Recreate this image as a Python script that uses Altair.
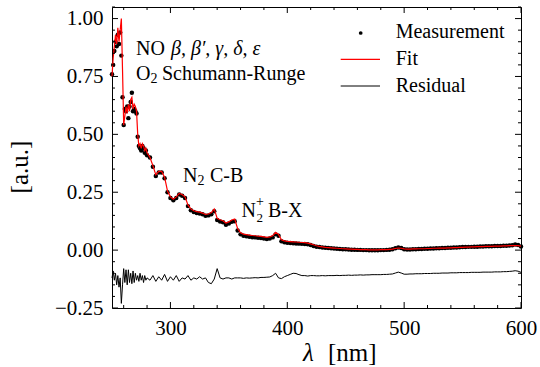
import altair as alt
import pandas as pd

# ---------------- data ----------------
WL = list(range(250, 281)) + [282.5 + 2.5 * i for i in range(128)]

MEAS = [
    0.76, 0.80, 0.86, 0.90, 0.88, 0.93, 0.89, 0.94, 0.84, 0.66,
    0.54, 0.61, 0.60, 0.62, 0.57, 0.62, 0.64, 0.68, 0.60, 0.61,
    0.60, 0.59, 0.49, 0.45, 0.44, 0.43, 0.45, 0.44, 0.42, 0.43,
    0.41,
    0.40, 0.36, 0.32, 0.335, 0.335, 0.31, 0.25, 0.225, 0.215, 0.225,
    0.24, 0.235, 0.225, 0.19, 0.172, 0.165, 0.16, 0.158, 0.155, 0.148,
    0.15, 0.155, 0.168, 0.13, 0.124, 0.12, 0.11, 0.115, 0.122, 0.125,
    0.085, 0.068, 0.062, 0.06, 0.058, 0.056, 0.055, 0.053, 0.052, 0.05,
    0.048, 0.05, 0.055, 0.068, 0.062, 0.038, 0.034, 0.032,
    0.031, 0.030, 0.029, 0.028, 0.027, 0.026, 0.025, 0.022, 0.018, 0.015,
    0.013, 0.011, 0.010, 0.009, 0.008, 0.007, 0.006, 0.005, 0.004, 0.004,
    0.003, 0.002, 0.002, 0.001, 0.001, 0.000, 0.000, -0.001, -0.001, -0.001,
    -0.001, 0.000, 0.000, 0.001, 0.002, 0.004, 0.008, 0.011, 0.009, 0.004,
    0.003, 0.003, 0.004, 0.004, 0.005, 0.005, 0.006, 0.006, 0.007, 0.007,
    0.008, 0.008, 0.009, 0.009, 0.010, 0.010, 0.011, 0.011, 0.012, 0.013,
    0.013, 0.014, 0.014, 0.015, 0.015, 0.016, 0.016, 0.017, 0.017, 0.017,
    0.018, 0.018, 0.018, 0.019, 0.019, 0.020, 0.021, 0.024, 0.022, 0.016,
]

FIT = [
    0.75, 0.83, 0.88, 0.93, 0.89, 0.96, 0.90, 0.95, 1.00, 0.78,
    0.54, 0.58, 0.62, 0.59, 0.63, 0.60, 0.65, 0.66, 0.61, 0.63,
    0.62, 0.60, 0.50, 0.45, 0.46, 0.44, 0.46, 0.45, 0.43, 0.44,
    0.42,
    0.40, 0.365, 0.325, 0.34, 0.34, 0.315, 0.255, 0.23, 0.22, 0.23,
    0.245, 0.24, 0.23, 0.195, 0.178, 0.17, 0.166, 0.164, 0.16, 0.154,
    0.156, 0.162, 0.178, 0.137, 0.131, 0.127, 0.117, 0.122, 0.13, 0.134,
    0.093, 0.075, 0.069, 0.067, 0.065, 0.063, 0.062, 0.06, 0.059, 0.057,
    0.055, 0.057, 0.062, 0.077, 0.068, 0.045, 0.04, 0.038,
    0.037, 0.036, 0.035, 0.034, 0.033, 0.032, 0.030, 0.027, 0.023, 0.019,
    0.016, 0.014, 0.012, 0.011, 0.010, 0.009, 0.008, 0.007, 0.006, 0.005,
    0.004, 0.004, 0.003, 0.003, 0.002, 0.002, 0.002, 0.001, 0.001, 0.001,
    0.001, 0.002, 0.002, 0.002, 0.003, 0.004, 0.007, 0.009, 0.008, 0.005,
    0.004, 0.004, 0.005, 0.005, 0.006, 0.006, 0.006, 0.007, 0.007, 0.008,
    0.008, 0.009, 0.009, 0.009, 0.010, 0.010, 0.011, 0.011, 0.012, 0.012,
    0.013, 0.013, 0.014, 0.014, 0.015, 0.015, 0.015, 0.016, 0.016, 0.016,
    0.017, 0.017, 0.017, 0.018, 0.018, 0.019, 0.019, 0.020, 0.019, 0.017,
]

RES = [
    -0.12, -0.09, -0.13, -0.10, -0.15, -0.11, -0.16, -0.12, -0.23, -0.15,
    -0.08, -0.14, -0.085, -0.15, -0.085, -0.14, -0.10, -0.145, -0.09, -0.14,
    -0.10, -0.13, -0.11, -0.135, -0.10, -0.13, -0.11, -0.14, -0.11, -0.13,
    -0.12,
    -0.13, -0.11, -0.135, -0.115, -0.13, -0.105, -0.135, -0.115, -0.13, -0.11,
    -0.135, -0.12, -0.125, -0.11, -0.13, -0.12, -0.125, -0.115, -0.125, -0.12,
    -0.14, -0.145, -0.125, -0.08, -0.12, -0.125, -0.12, -0.12, -0.125, -0.12,
    -0.12, -0.12, -0.122, -0.12, -0.121, -0.12, -0.119, -0.12, -0.118, -0.118,
    -0.117, -0.116, -0.11, -0.10, -0.12, -0.123, -0.115, -0.11,
    -0.105, -0.100, -0.101, -0.106, -0.110, -0.110, -0.112, -0.110, -0.110, -0.111,
    -0.111, -0.110, -0.111, -0.110, -0.110, -0.110, -0.109, -0.110, -0.109, -0.109,
    -0.108, -0.109, -0.108, -0.108, -0.107, -0.108, -0.107, -0.107, -0.106, -0.106,
    -0.106, -0.106, -0.105, -0.105, -0.104, -0.103, -0.099, -0.095, -0.099, -0.104,
    -0.104, -0.103, -0.103, -0.102, -0.102, -0.102, -0.101, -0.101, -0.101, -0.100,
    -0.100, -0.100, -0.099, -0.099, -0.099, -0.098, -0.098, -0.098, -0.097, -0.097,
    -0.097, -0.097, -0.096, -0.096, -0.096, -0.096, -0.095, -0.095, -0.095, -0.095,
    -0.094, -0.094, -0.094, -0.093, -0.093, -0.092, -0.091, -0.089, -0.091, -0.096,
]

X_MAJOR = [300, 400, 500, 600]
X_MINOR = [260, 280, 320, 340, 360, 380, 420, 440, 460, 480, 520, 540, 560, 580]
Y_MAJOR = [-0.25, 0.0, 0.25, 0.5, 0.75, 1.0]
Y_MINOR = [-0.2, -0.15, -0.1, -0.05, 0.05, 0.1, 0.15, 0.2, 0.3, 0.35, 0.4, 0.45,
           0.55, 0.6, 0.65, 0.7, 0.8, 0.85, 0.9, 0.95, 1.05]

# ---------------- chart ----------------
FONT = "Liberation Serif"
W, H = 409, 301
XS = alt.Scale(domain=[250, 600], nice=False, zero=False)
YS = alt.Scale(domain=[-0.25, 1.05], nice=False, zero=False)

df = pd.DataFrame({"wl": WL, "meas": MEAS, "fit": FIT, "res": RES})

xaxis = alt.Axis(values=X_MAJOR, ticks=False, domain=False, grid=False, format="d",
                 labelFont=FONT, labelFontSize=21, labelColor="black", labelPadding=9,
                 labelFlush=False, labelOverlap=False, title=None)
yaxis = alt.Axis(values=Y_MAJOR, ticks=False, domain=False, grid=False, format=".2f",
                 labelFont=FONT, labelFontSize=21, labelColor="black", labelPadding=9,
                 labelFlush=False, labelOverlap=False, title=None)

XE = alt.X("wl:Q", scale=XS, axis=xaxis)

base = alt.Chart(df)
points = base.mark_circle(size=20, color="black", opacity=1).encode(
    x=XE, y=alt.Y("meas:Q", scale=YS, axis=yaxis))
fit = base.mark_line(color="#ff0000", strokeWidth=1.2).encode(
    x=XE, y=alt.Y("fit:Q", scale=YS, axis=yaxis))
res = base.mark_line(color="black", strokeWidth=1).encode(
    x=XE, y=alt.Y("res:Q", scale=YS, axis=yaxis))

def xticks(vals, length):
    d = alt.Chart(pd.DataFrame({"wl": vals}))
    bot = d.mark_rule(color="black", strokeWidth=1).encode(
        x=XE, y=alt.value(H), y2=alt.value(H - length))
    top = d.mark_rule(color="black", strokeWidth=1).encode(
        x=XE, y=alt.value(0), y2=alt.value(length))
    return [bot, top]

def yticks(vals, length):
    d = alt.Chart(pd.DataFrame({"meas": vals}))
    ye = alt.Y("meas:Q", scale=YS, axis=yaxis)
    left = d.mark_rule(color="black", strokeWidth=1).encode(
        y=ye, x=alt.value(0), x2=alt.value(length))
    right = d.mark_rule(color="black", strokeWidth=1).encode(
        y=ye, x=alt.value(W), x2=alt.value(W - length))
    return [left, right]

one = pd.DataFrame({"a": [0]})

def label(text, px, py, size=20, style="normal", align="left", baseline="alphabetic", angle=0):
    return alt.Chart(one).mark_text(text=text, font=FONT, fontSize=size, fontStyle=style,
                                    align=align, baseline=baseline, angle=angle,
                                    color="black").encode(
        x=alt.value(px), y=alt.value(py))

texts = [
    label("NO", 24, 48),
    label("β, β′, γ, δ, ε", 59, 48, style="italic"),
    label("O", 24, 72.5),
    label("2", 38.5, 76, size=14),
    label("Schumann-Runge", 50, 72.5),
    label("N", 71, 174.7),
    label("2", 85.5, 178, size=14),
    label("C-B", 98, 174.7),
    label("N", 129.5, 209.7),
    label("+", 144, 199, size=14),
    label("2", 144.5, 215, size=13),
    label("B-X", 156, 209.7),
    # axis titles
    label("λ", 191, 354, size=25, style="italic"),
    label("[nm]", 216, 354, size=25),
    label("[a.u.]", -92, 160, size=25, align="center", baseline="middle", angle=270),
    # legend
    label("Measurement", 283.7, 31.3, size=20),
    label("Fit", 283.7, 58, size=20),
    label("Residual", 283.7, 84.7, size=20),
]

leg_dot = alt.Chart(one).mark_circle(size=14, color="black", opacity=1).encode(
    x=alt.value(248.7), y=alt.value(26))
leg_fit = alt.Chart(one).mark_rule(color="#ff0000", strokeWidth=1.2).encode(
    x=alt.value(228.7), x2=alt.value(268), y=alt.value(52.3))
leg_res = alt.Chart(one).mark_rule(color="black", strokeWidth=1).encode(
    x=alt.value(228.7), x2=alt.value(268), y=alt.value(79))

layers = [points, res, fit] + xticks(X_MAJOR, 6) + xticks(X_MINOR, 3) \
    + yticks(Y_MAJOR, 6) + yticks(Y_MINOR, 3) + texts + [leg_dot, leg_fit, leg_res]

chart = alt.layer(*layers).properties(
    width=W, height=H,
    autosize="none",
    padding={"left": 112, "top": 7, "right": 19, "bottom": 59},
    background="white",
).configure_view(stroke="black", strokeWidth=1)

chart.save("out.html", embed_options={"renderer": "svg", "actions": False})
